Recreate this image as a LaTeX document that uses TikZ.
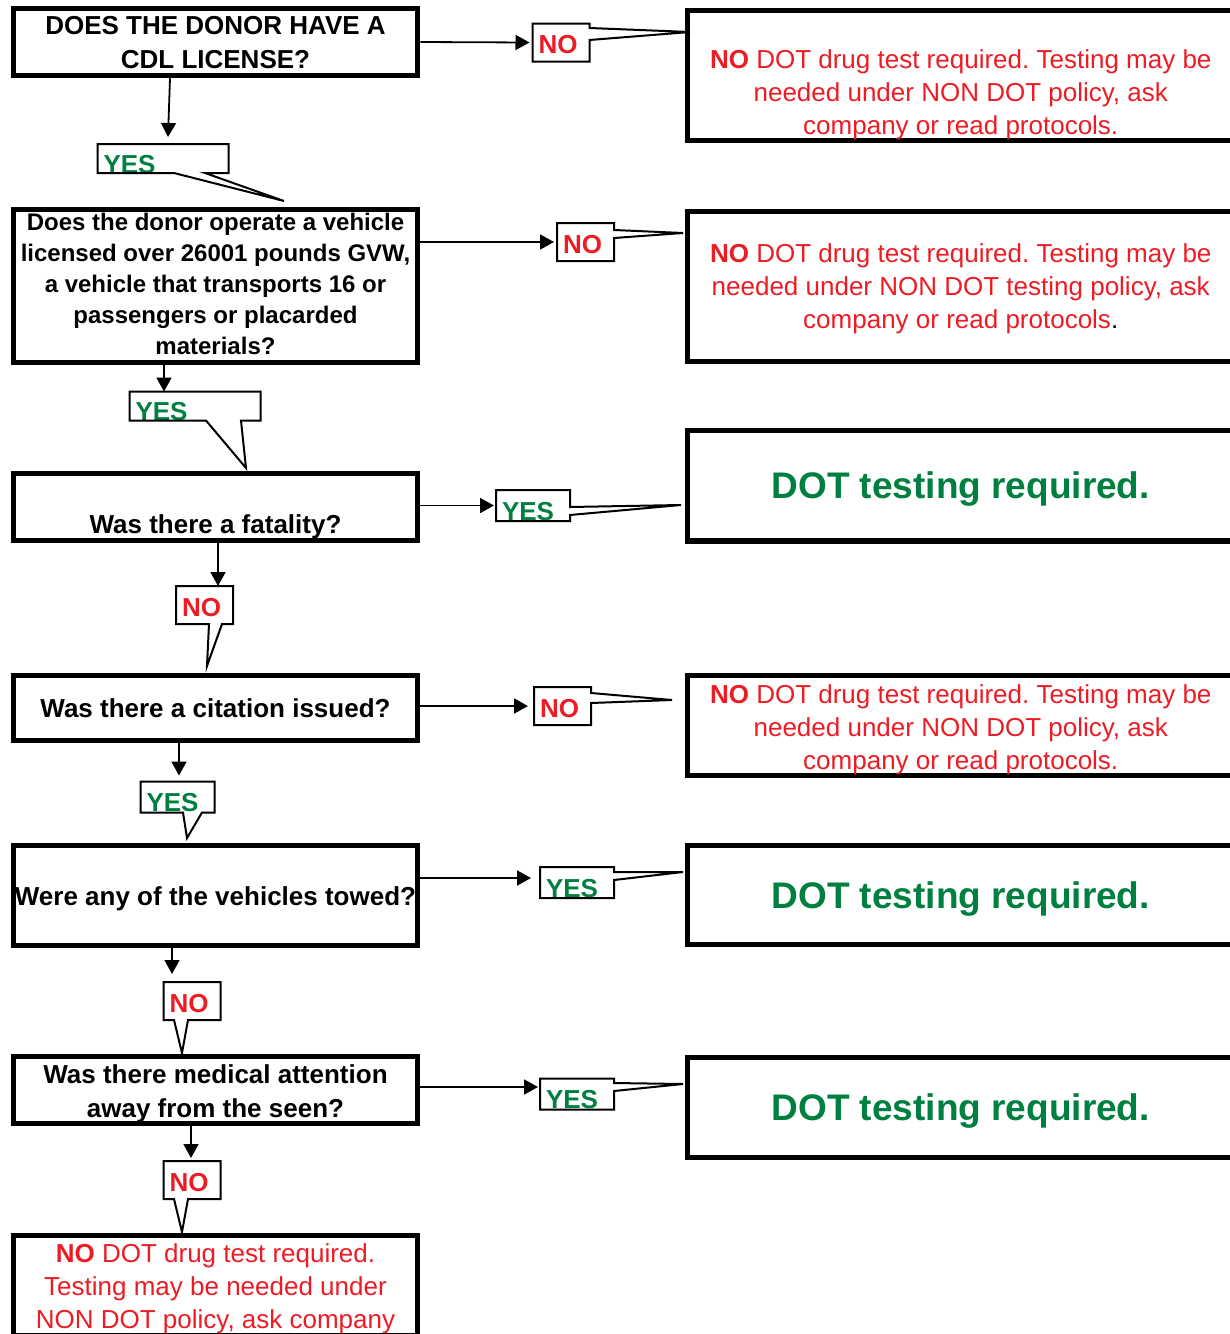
\documentclass[tikz,border=0pt]{standalone}
\usepackage{fontspec}
\setmainfont{Liberation Sans}
\usetikzlibrary{arrows.meta,positioning}
\frenchspacing

\definecolor{nored}{RGB}{237,28,36}
\definecolor{yesgreen}{RGB}{0,128,64}

\begin{document}
\begin{tikzpicture}[x=1pt,y=-1pt,
    qbox/.style={draw, line width=5.5pt, inner sep=0pt, minimum width=404pt, align=center,
      font=\bfseries\fontsize{26pt}{34pt}\selectfont},
    rbox/.style={draw, line width=5.5pt, inner sep=0pt, minimum width=546.5pt, align=center,
      text=nored, font=\fontsize{26pt}{33pt}\selectfont},
    dotbox/.style={rbox, text=yesgreen, font=\bfseries\fontsize{37pt}{40pt}\selectfont},
    tag/.style={inner xsep=6pt, inner ysep=0pt, outer sep=0pt, align=left,
      font=\bfseries\fontsize{26pt}{30pt}\selectfont},
    notag/.style={tag, text=nored, text width=45pt, minimum height=38pt, text height=25pt, text depth=3pt},
    yestag/.style={tag, text=yesgreen, text width=62pt, minimum height=31pt, text height=29pt, text depth=0pt},
    longyestag/.style={yestag, text width=119pt, minimum height=29pt},
    tagline/.style={line width=2pt},
    arrow/.style={line width=1.8pt, -{Triangle[length=14pt,width=15pt]}}]

  \useasboundingbox (0,0) rectangle (1230,1334);
  \fill[white] (0,0) rectangle (1230,1334);
  \clip (0,0) rectangle (1230,1334);

  % questions
  \node[qbox, minimum height=67pt, text height=54pt, text depth=2pt] (b1) at (215.5,42)
    {DOES THE DONOR HAVE A\\CDL LICENSE?};
  \node[qbox, font=\bfseries\fontsize{24pt}{31pt}\selectfont, minimum height=153pt,
    text height=140pt, text depth=4pt] (b2) at (215.5,286)
    {Does the donor operate a vehicle\\licensed over 26001 pounds GVW,\\a vehicle that transports 16 or\\passengers or placarded\\materials?};
  \node[qbox, minimum height=67pt, text height=57pt, text depth=5pt] (b3) at (215.5,507)
    {Was there a fatality?};
  \node[qbox, minimum height=65pt, text height=19pt, text depth=1pt] (b4) at (215.5,708)
    {Was there a citation issued?};
  \node[qbox, minimum height=100pt, text height=19pt, text depth=0pt] (b5) at (215.5,895.5)
    {Were any of the vehicles towed?};
  \node[qbox, minimum height=67pt, text height=55pt, text depth=1pt] (b6) at (215.5,1090)
    {Was there medical attention\\away from the seen?};
  \node[qbox, text=nored, font=\fontsize{26pt}{33pt}\selectfont, minimum height=100pt,
    text height=86pt, text depth=1pt] (b7) at (215.5,1285.5)
    {\textbf{NO} DOT drug test required.\\Testing may be needed under\\NON DOT policy, ask company};

  % results
  \node[rbox, minimum height=130pt, text height=119pt, text depth=2pt] (r1) at (960.75,75.5)
    {\textbf{NO} DOT drug test required. Testing may be\\needed under NON DOT policy, ask\\company or read protocols.};
  \node[rbox, minimum height=150pt, text height=85pt, text depth=2pt] (r2) at (960.75,286.5)
    {\textbf{NO} DOT drug test required. Testing may be\\needed under NON DOT testing policy, ask\\company or read protocols\textcolor{black}{.}};
  \node[dotbox, minimum height=110.5pt, text height=27pt, text depth=2.5pt] (r3) at (960.75,485.75)
    {DOT testing required.};
  \node[rbox, minimum height=100pt, text height=89pt, text depth=2pt] (r4) at (960.75,725.5)
    {\textbf{NO} DOT drug test required. Testing may be\\needed under NON DOT policy, ask\\company or read protocols.};
  \node[dotbox, minimum height=99pt, text height=27pt, text depth=1pt] (r5) at (960.75,895)
    {DOT testing required.};
  \node[dotbox, minimum height=100pt, text height=27pt, text depth=2pt] (r6) at (960.75,1107.5)
    {DOT testing required.};

  % answer tags
  \node[notag] (c1) at (561,42.5) {NO};
  \node[longyestag] (c2) at (163,158.5) {YES};
  \node[notag] (c3) at (585.5,242) {NO};
  \node[longyestag] (c4) at (195,406) {YES};
  \node[yestag] (c5) at (533,505.5) {YES};
  \node[notag] (c6) at (204.5,605) {NO};
  \node[notag] (c7) at (562.5,706) {NO};
  \node[yestag] (c8) at (177.5,797) {YES};
  \node[yestag] (c9) at (577,882.5) {YES};
  \node[notag] (c10) at (192,1001) {NO};
  \node[yestag] (c11) at (577,1094) {YES};
  \node[notag] (c12) at (192,1180) {NO};

  \coordinate (c1tip) at (690,32);
  \coordinate (c2tip) at (284,201);
  \coordinate (c3tip) at (683,233);
  \coordinate (c4tip) at (246,468);
  \coordinate (c5tip) at (681,505);
  \coordinate (c6tip) at (207,666);
  \coordinate (c7tip) at (672,700);
  \coordinate (c8tip) at (187,838);
  \coordinate (c9tip) at (683,872);
  \coordinate (c10tip) at (182,1053);
  \coordinate (c11tip) at (683,1084);
  \coordinate (c12tip) at (182,1232);

  \draw[tagline] (c1.north west) -- (c1.north east) -- ([shift={(0,4.5)}]c1.north east) -- (c1tip)
    -- ([shift={(0,16.5)}]c1.north east) -- (c1.south east) -- (c1.south west) -- cycle;
  \draw[tagline] (c3.north west) -- (c3.north east) -- ([shift={(0,7)}]c3.north east) -- (c3tip)
    -- ([shift={(0,15)}]c3.north east) -- (c3.south east) -- (c3.south west) -- cycle;
  \draw[tagline] (c5.north west) -- (c5.north east) -- ([shift={(0,17)}]c5.north east) -- (c5tip)
    -- ([shift={(0,25)}]c5.north east) -- (c5.south east) -- (c5.south west) -- cycle;
  \draw[tagline] (c7.north west) -- (c7.north east) -- ([shift={(0,6)}]c7.north east) -- (c7tip)
    -- ([shift={(0,16)}]c7.north east) -- (c7.south east) -- (c7.south west) -- cycle;
  \draw[tagline] (c9.north west) -- (c9.north east) -- ([shift={(0,5)}]c9.north east) -- (c9tip)
    -- ([shift={(0,13)}]c9.north east) -- (c9.south east) -- (c9.south west) -- cycle;
  \draw[tagline] (c11.north west) -- (c11.north east) -- ([shift={(0,4.5)}]c11.north east) -- (c11tip)
    -- ([shift={(0,12.5)}]c11.north east) -- (c11.south east) -- (c11.south west) -- cycle;

  \draw[tagline] (c2.north west) -- (c2.north east) -- (c2.south east) -- ([shift={(107.5,0)}]c2.south west)
    -- (c2tip) -- ([shift={(76.5,0)}]c2.south west) -- (c2.south west) -- cycle;
  \draw[tagline] (c4.north west) -- (c4.north east) -- (c4.south east) -- ([shift={(111.5,0)}]c4.south west)
    -- (c4tip) -- ([shift={(76.5,0)}]c4.south west) -- (c4.south west) -- cycle;
  \draw[tagline] (c6.north west) -- (c6.north east) -- (c6.south east) -- ([shift={(46,0)}]c6.south west)
    -- (c6tip) -- ([shift={(33,0)}]c6.south west) -- (c6.south west) -- cycle;
  \draw[tagline] (c8.north west) -- (c8.north east) -- (c8.south east) -- ([shift={(61.5,0)}]c8.south west)
    -- (c8tip) -- ([shift={(42.5,0)}]c8.south west) -- (c8.south west) -- cycle;
  \draw[tagline] (c10.north west) -- (c10.north east) -- (c10.south east) -- ([shift={(24.5,0)}]c10.south west)
    -- (c10tip) -- ([shift={(10.5,0)}]c10.south west) -- (c10.south west) -- cycle;
  \draw[tagline] (c12.north west) -- (c12.north east) -- (c12.south east) -- ([shift={(24.5,0)}]c12.south west)
    -- (c12tip) -- ([shift={(10.5,0)}]c12.south west) -- (c12.south west) -- cycle;

  % arrows
  \draw[arrow] (b1.east) -- ([shift={(-3,0)}]c1.west);
  \draw[arrow] ([shift={(-45.5,0)}]b1.south) -- ([shift={(5,-7)}]c2.north);
  \draw[arrow] (b2.east |- c3.west) -- ([shift={(-3,0)}]c3.west);
  \draw[arrow] ([shift={(-51.5,0)}]b2.south) -- ([shift={(-31,0)}]c4.north);
  \draw[arrow] (b3.east |- c5.west) -- ([shift={(-2,0)}]c5.west);
  \draw[arrow] ([shift={(2.5,0)}]b3.south) -- ([shift={(13.5,0)}]c6.north);
  \draw[arrow] (b4.east |- c7.west) -- ([shift={(-6,0)}]c7.west);
  \draw[arrow] ([shift={(-36.5,0)}]b4.south) -- ([shift={(1.5,-6)}]c8.north);
  \draw[arrow] ([shift={(0,-17.5)}]b5.east) -- ([shift={(-9,-4.5)}]c9.west);
  \draw[arrow] ([shift={(-43.5,0)}]b5.south) -- ([shift={(-20,-8)}]c10.north);
  \draw[arrow] ([shift={(-2.5,-3)}]b6.east) -- ([shift={(-2,-7)}]c11.west);
  \draw[arrow] ([shift={(-24.5,0)}]b6.south) -- ([shift={(-1,-3)}]c12.north);
\end{tikzpicture}
\end{document}
